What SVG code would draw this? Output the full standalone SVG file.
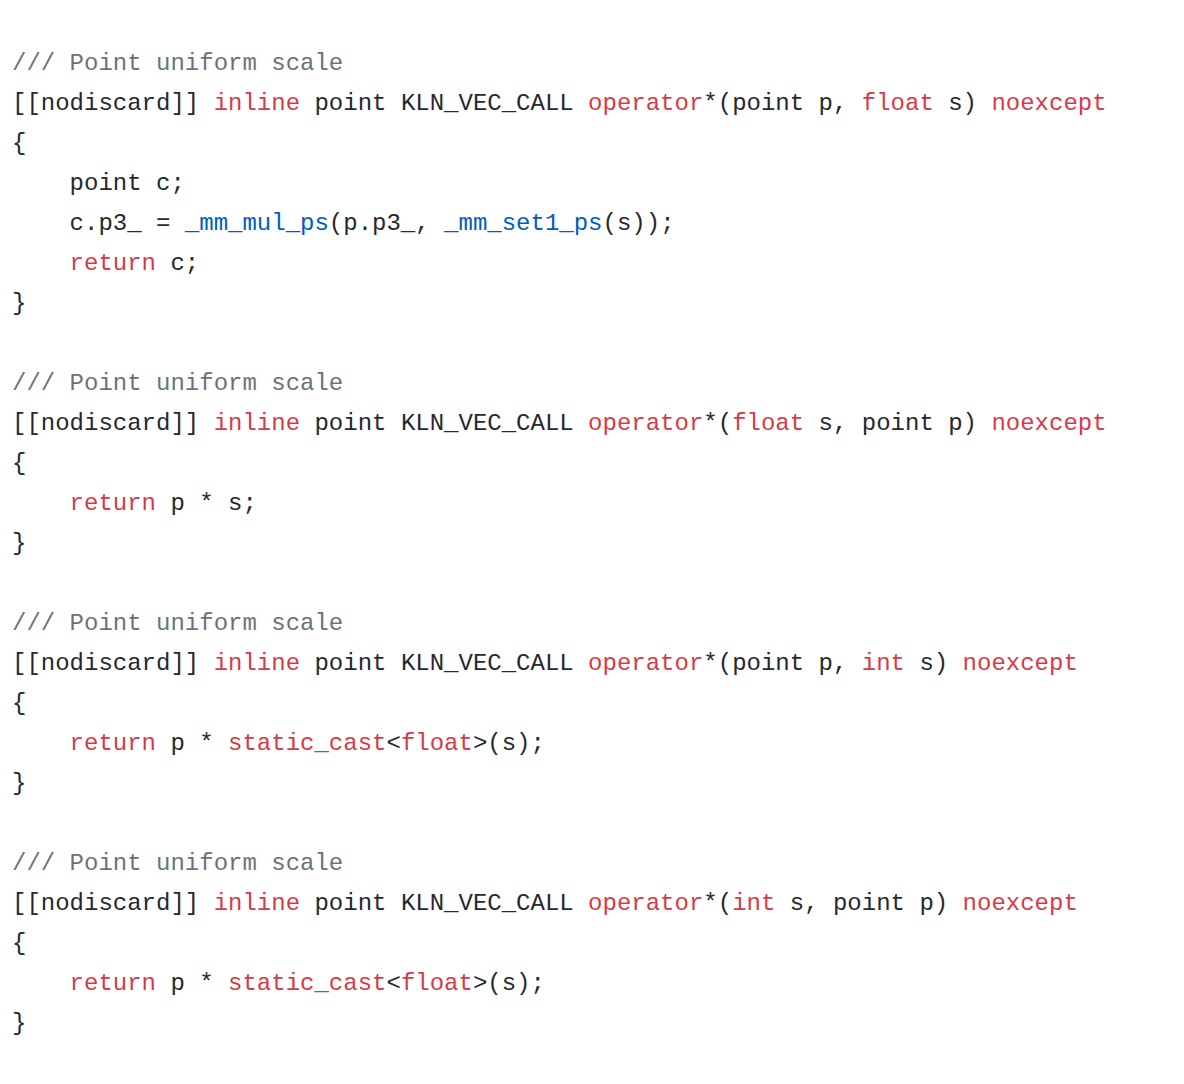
<svg xmlns="http://www.w3.org/2000/svg" width="1184" height="1084" viewBox="0 0 1184 1084">
<style>
text{font-family:"Liberation Mono","DejaVu Sans Mono",monospace;font-size:24px;fill:#24292e;white-space:pre}
.c{fill:#6a737d}.k{fill:#d73a49}.f{fill:#005cc5}
</style>
<rect width="1184" height="1084" fill="#ffffff"/>
<g id="code" xml:space="preserve">
<text x="12" y="70" class="c">/// Point uniform scale</text>
<text x="12" y="110">[[nodiscard]] <tspan class="k">inline</tspan> point KLN_VEC_CALL <tspan class="k">operator</tspan>*(point p, <tspan class="k">float</tspan> s) <tspan class="k">noexcept</tspan></text>
<text x="12" y="150">{</text>
<text x="12" y="190">    point c;</text>
<text x="12" y="230">    c.p3_ = <tspan class="f">_mm_mul_ps</tspan>(p.p3_, <tspan class="f">_mm_set1_ps</tspan>(s));</text>
<text x="12" y="270">    <tspan class="k">return</tspan> c;</text>
<text x="12" y="310">}</text>
<text x="12" y="390" class="c">/// Point uniform scale</text>
<text x="12" y="430">[[nodiscard]] <tspan class="k">inline</tspan> point KLN_VEC_CALL <tspan class="k">operator</tspan>*(<tspan class="k">float</tspan> s, point p) <tspan class="k">noexcept</tspan></text>
<text x="12" y="470">{</text>
<text x="12" y="510">    <tspan class="k">return</tspan> p * s;</text>
<text x="12" y="550">}</text>
<text x="12" y="630" class="c">/// Point uniform scale</text>
<text x="12" y="670">[[nodiscard]] <tspan class="k">inline</tspan> point KLN_VEC_CALL <tspan class="k">operator</tspan>*(point p, <tspan class="k">int</tspan> s) <tspan class="k">noexcept</tspan></text>
<text x="12" y="710">{</text>
<text x="12" y="750">    <tspan class="k">return</tspan> p * <tspan class="k">static_cast</tspan>&lt;<tspan class="k">float</tspan>&gt;(s);</text>
<text x="12" y="790">}</text>
<text x="12" y="870" class="c">/// Point uniform scale</text>
<text x="12" y="910">[[nodiscard]] <tspan class="k">inline</tspan> point KLN_VEC_CALL <tspan class="k">operator</tspan>*(<tspan class="k">int</tspan> s, point p) <tspan class="k">noexcept</tspan></text>
<text x="12" y="950">{</text>
<text x="12" y="990">    <tspan class="k">return</tspan> p * <tspan class="k">static_cast</tspan>&lt;<tspan class="k">float</tspan>&gt;(s);</text>
<text x="12" y="1030">}</text>
</g>
</svg>
